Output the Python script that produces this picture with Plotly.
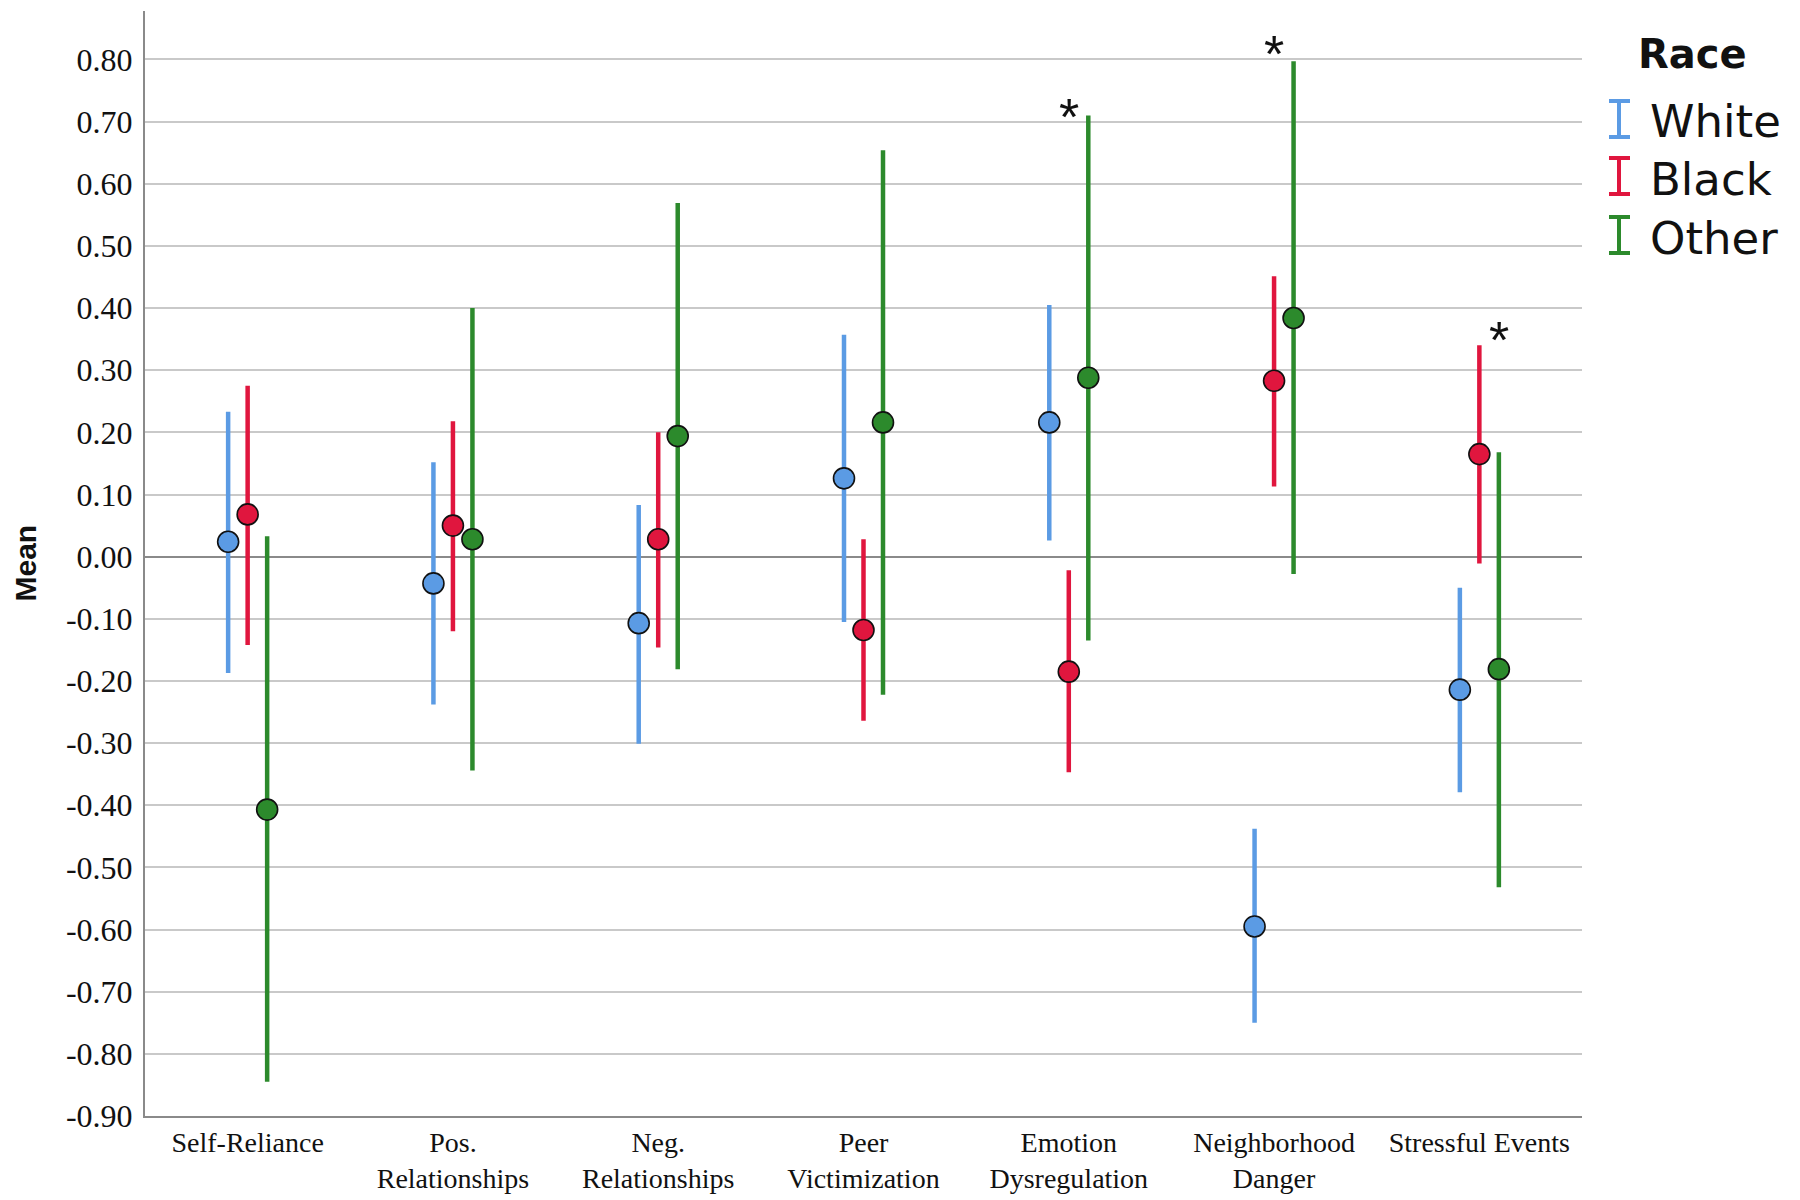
import plotly.graph_objects as go

categories = ["Self-Reliance", "Pos.<br>Relationships", "Neg.<br>Relationships", "Peer<br>Victimization",
              "Emotion<br>Dysregulation", "Neighborhood<br>Danger", "Stressful Events"]

white_mean = [0.024, -0.043, -0.107, 0.126, 0.216, -0.595, -0.214]
white_lo = [-0.187, -0.238, -0.301, -0.105, 0.026, -0.750, -0.379]
white_hi = [0.233, 0.152, 0.083, 0.357, 0.405, -0.438, -0.050]

black_mean = [0.068, 0.050, 0.028, -0.118, -0.185, 0.283, 0.165]
black_lo = [-0.142, -0.120, -0.146, -0.264, -0.347, 0.113, -0.011]
black_hi = [0.275, 0.218, 0.200, 0.028, -0.022, 0.451, 0.340]

other_mean = [-0.407, 0.028, 0.194, 0.216, 0.288, 0.384, -0.181]
other_lo = [-0.845, -0.344, -0.181, -0.222, -0.135, -0.028, -0.532]
other_hi = [0.033, 0.400, 0.569, 0.654, 0.710, 0.797, 0.168]

# significance markers: (category index, group offset index, y)
star_cat = [4, 5, 6]
star_grp = [0, 0, 1]
star_y = [0.724, 0.825, 0.365]

yticks = [round(-0.9 + 0.1 * i, 2) for i in range(18)]

series = [
    ("White", white_mean, white_lo, white_hi, "#5b9be4", -1),
    ("Black", black_mean, black_lo, black_hi, "#e0163e", 0),
    ("Other", other_mean, other_lo, other_hi, "#2c8a2c", 1),
]
OFF = 0.095

# page has an 8px body margin; layout is expressed in window pixels
PAD = 8
W, H = 1800, 1200
ML, MT = 145 - PAD, 11 - PAD
PR, PB = 1582, 1116            # plot right / bottom in window px
MR = W - (PR - PAD)
MB = H - (PB - PAD)
pw, ph = PR - (ML + PAD), PB - (MT + PAD)


def px(x):
    return (x - (ML + PAD)) / pw


def py(y):
    return (PB - y) / ph


fig = go.Figure()
for name, m, lo, hi, col, g in series:
    xs = [i + g * OFF for i in range(len(categories))]
    fig.add_trace(go.Scatter(
        x=xs, y=m, mode="markers", name=name, showlegend=False,
        marker=dict(size=21, color=col, line=dict(color="#111111", width=1.6)),
        error_y=dict(type="data", symmetric=False,
                     array=[h - v for h, v in zip(hi, m)],
                     arrayminus=[v - l for v, l in zip(m, lo)],
                     color=col, thickness=4.5, width=0),
    ))

for c, g, y in zip(star_cat, star_grp, star_y):
    fig.add_annotation(x=c + g * OFF, y=y, xref="x", yref="y", text="*", showarrow=False,
                       font=dict(family="Liberation Sans", size=52, color="#111111"),
                       xanchor="center", yanchor="middle", yshift=-10)

fig.add_annotation(x=px(25), y=0.5, xref="paper", yref="paper", text="<b>Mean</b>",
                   textangle=-90, showarrow=False, xanchor="center", yanchor="middle",
                   font=dict(family="Liberation Sans", size=30, color="#111111"))

# legend
fig.add_annotation(x=px(1692), y=py(54), xref="paper", yref="paper", text="<b>Race</b>",
                   showarrow=False, xanchor="center", yanchor="middle",
                   font=dict(family="DejaVu Sans", size=40, color="#111111"))
legend_y = [120, 177, 236]
for (name, m, lo, hi, col, g), ly in zip(series, legend_y):
    top, bot = ly - 19, ly + 17
    for x0, y0, x1, y1 in [(1619, top, 1619, bot), (1609, top, 1630, top), (1609, bot, 1630, bot)]:
        fig.add_shape(type="line", xref="paper", yref="paper",
                      x0=px(x0), y0=py(y0), x1=px(x1), y1=py(y1),
                      line=dict(color=col, width=4))
    fig.add_annotation(x=px(1648), y=py(ly + 2), xref="paper", yref="paper", text=name,
                       showarrow=False, xanchor="left", yanchor="middle",
                       font=dict(family="DejaVu Sans", size=45, color="#111111"))

fig.update_layout(
    width=W, height=H, margin=dict(l=ML, r=MR, t=MT, b=MB),
    paper_bgcolor="white", plot_bgcolor="white",
    font=dict(family="Liberation Serif", color="#111111"),
    xaxis=dict(range=[-0.5, 6.5], tickvals=list(range(len(categories))), ticktext=categories,
               showgrid=False, zeroline=False, showline=True, linecolor="#8a8a8a", linewidth=2,
               ticks="", tickfont=dict(family="Liberation Serif", size=28, color="#111111")),
    yaxis=dict(range=[-0.9, 0.878], tickvals=yticks, ticktext=[f"{v:.2f}" for v in yticks],
               showgrid=True, gridcolor="#c9c9c9", gridwidth=1.5,
               zeroline=True, zerolinecolor="#8a8a8a", zerolinewidth=2,
               showline=True, linecolor="#8a8a8a", linewidth=2, ticks="",
               ticklabelstandoff=4,
               tickfont=dict(family="Liberation Serif", size=32, color="#111111")),
)

fig.write_html("out.html")
